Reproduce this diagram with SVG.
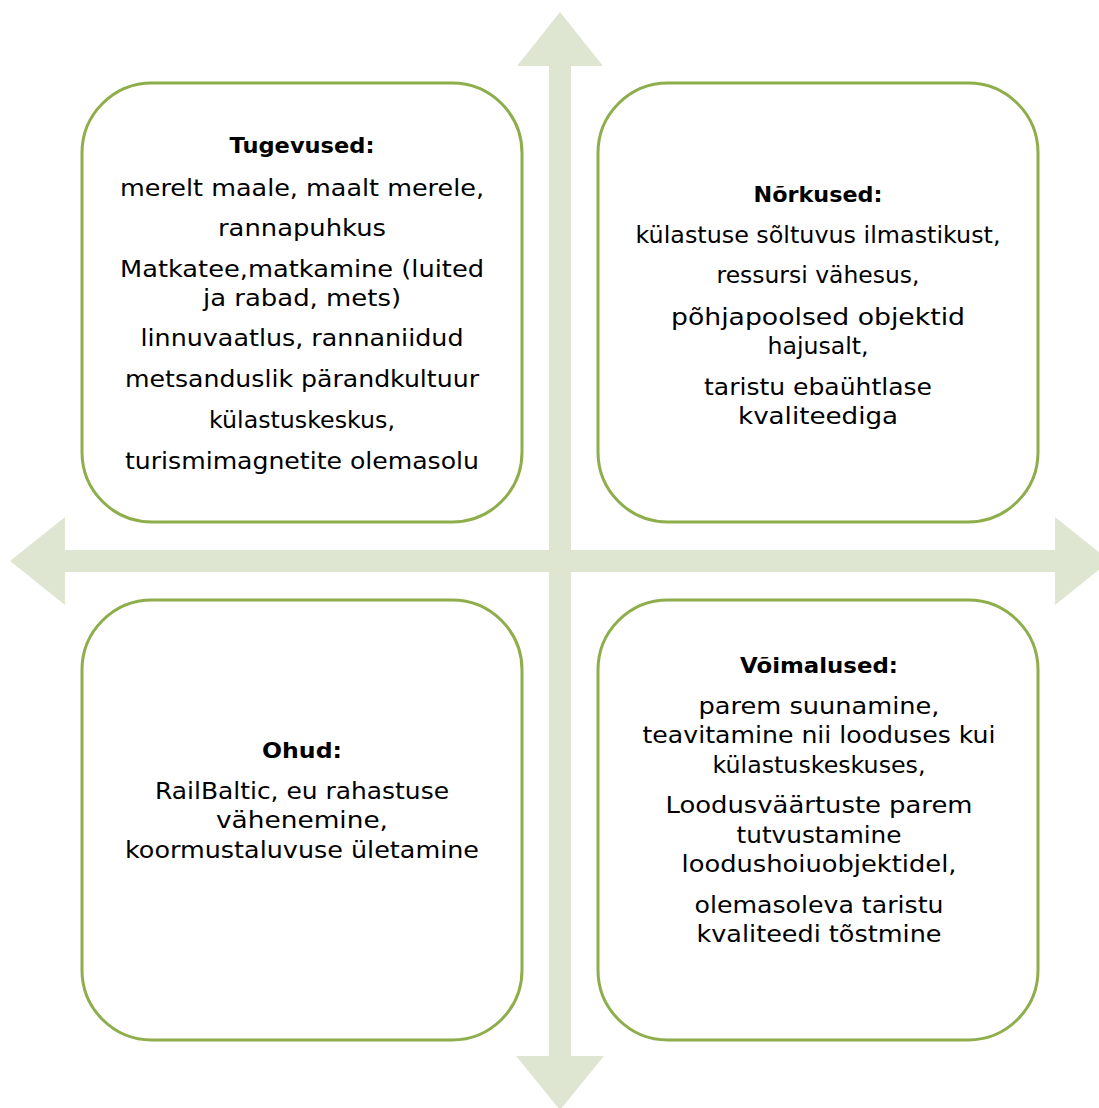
<svg xmlns="http://www.w3.org/2000/svg" width="1099" height="1108" viewBox="0 0 1099 1108">
<style>
.box{fill:#ffffff;stroke:#8eae4c;stroke-width:3}
.arrow{fill:#dee6d1;stroke:none}
text{font-family:"DejaVu Sans","Liberation Sans",sans-serif;font-size:23px;fill:#000;text-anchor:middle}
.t{font-weight:bold;font-size:22px}
</style>
<g id="connectors">
<polygon class="arrow" points="560,12 603,66 571,66 571,550 1055,550 1055,517 1110,561 1055,605 1055,572 571,572 571,1056 604,1056 560,1110 516,1056 549,1056 549,572 65,572 65,605 10,561 65,517 65,550 549,550 549,66 517,66"/>
</g>
<g id="tugevused">
<rect class="box" x="82" y="83" width="440" height="439" rx="70" ry="70"/>
<text class="t" x="302" y="153" textLength="145" lengthAdjust="spacingAndGlyphs">Tugevused:</text>
<text x="302" y="196" textLength="364" lengthAdjust="spacingAndGlyphs">merelt maale, maalt merele,</text>
<text x="302" y="236" textLength="168" lengthAdjust="spacingAndGlyphs">rannapuhkus</text>
<text x="302" y="277" textLength="364" lengthAdjust="spacingAndGlyphs">Matkatee,matkamine (luited</text>
<text x="302" y="306" textLength="198" lengthAdjust="spacingAndGlyphs">ja rabad, mets)</text>
<text x="302" y="346" textLength="323" lengthAdjust="spacingAndGlyphs">linnuvaatlus, rannaniidud</text>
<text x="302" y="387" textLength="354" lengthAdjust="spacingAndGlyphs">metsanduslik pärandkultuur</text>
<text x="302" y="428" textLength="186" lengthAdjust="spacingAndGlyphs">külastuskeskus,</text>
<text x="302" y="469" textLength="354" lengthAdjust="spacingAndGlyphs">turismimagnetite olemasolu</text>
</g>
<g id="norkused">
<rect class="box" x="598" y="83" width="440" height="439" rx="70" ry="70"/>
<text class="t" x="818" y="202" textLength="129" lengthAdjust="spacingAndGlyphs">Nõrkused:</text>
<text x="818" y="243" textLength="365" lengthAdjust="spacingAndGlyphs">külastuse sõltuvus ilmastikust,</text>
<text x="818" y="283" textLength="203" lengthAdjust="spacingAndGlyphs">ressursi vähesus,</text>
<text x="818" y="325" textLength="294" lengthAdjust="spacingAndGlyphs">põhjapoolsed objektid</text>
<text x="818" y="354" textLength="101" lengthAdjust="spacingAndGlyphs">hajusalt,</text>
<text x="818" y="395" textLength="228" lengthAdjust="spacingAndGlyphs">taristu ebaühtlase</text>
<text x="818" y="424" textLength="160" lengthAdjust="spacingAndGlyphs">kvaliteediga</text>
</g>
<g id="ohud">
<rect class="box" x="82" y="600" width="440" height="440" rx="70" ry="70"/>
<text class="t" x="302" y="758" textLength="80" lengthAdjust="spacingAndGlyphs">Ohud:</text>
<text x="302" y="799" textLength="294" lengthAdjust="spacingAndGlyphs">RailBaltic, eu rahastuse</text>
<text x="302" y="828" textLength="172" lengthAdjust="spacingAndGlyphs">vähenemine,</text>
<text x="302" y="858" textLength="354" lengthAdjust="spacingAndGlyphs">koormustaluvuse ületamine</text>
</g>
<g id="voimalused">
<rect class="box" x="598" y="600" width="440" height="440" rx="70" ry="70"/>
<text class="t" x="819" y="673" textLength="158" lengthAdjust="spacingAndGlyphs">Võimalused:</text>
<text x="819" y="714" textLength="241" lengthAdjust="spacingAndGlyphs">parem suunamine,</text>
<text x="819" y="743" textLength="353" lengthAdjust="spacingAndGlyphs">teavitamine nii looduses kui</text>
<text x="819" y="773" textLength="213" lengthAdjust="spacingAndGlyphs">külastuskeskuses,</text>
<text x="819" y="813" textLength="307" lengthAdjust="spacingAndGlyphs">Loodusväärtuste parem</text>
<text x="819" y="843" textLength="165" lengthAdjust="spacingAndGlyphs">tutvustamine</text>
<text x="819" y="872" textLength="275" lengthAdjust="spacingAndGlyphs">loodushoiuobjektidel,</text>
<text x="819" y="913" textLength="249" lengthAdjust="spacingAndGlyphs">olemasoleva taristu</text>
<text x="819" y="942" textLength="245" lengthAdjust="spacingAndGlyphs">kvaliteedi tõstmine</text>
</g>
</svg>
